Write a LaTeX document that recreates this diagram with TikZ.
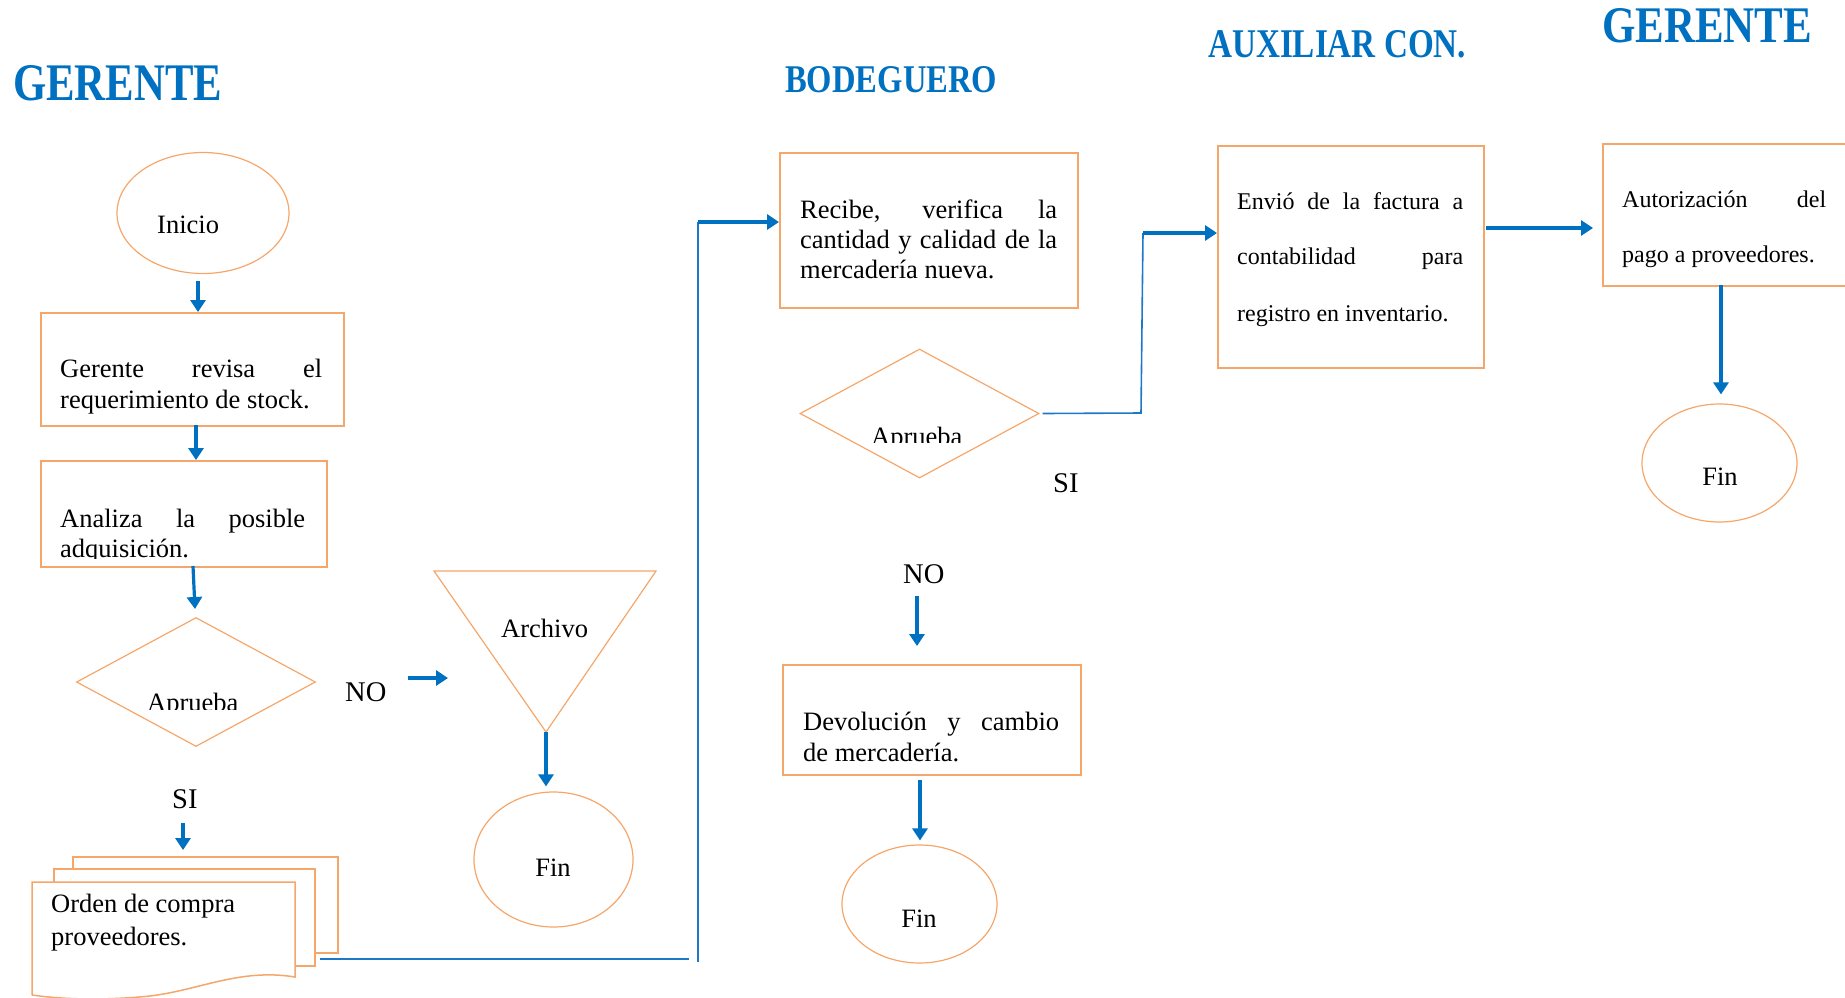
\documentclass[tikz,border=0pt]{standalone}
\usepackage{fontspec}
\setmainfont{Liberation Serif}
\usepackage{graphicx}
\usetikzlibrary{arrows.meta,shapes.geometric}
\definecolor{bl}{RGB}{0,112,192}
\definecolor{bll}{RGB}{30,120,200}
\definecolor{org}{RGB}{245,166,106}
\tikzset{
 box/.style={draw=org, line width=1.5pt, inner sep=0, anchor=north west},
 oval/.style={draw=org, line width=1.2pt, ellipse, inner sep=0},
 dia/.style={draw=org, line width=1.2pt, diamond, inner sep=0},
 shp/.style={draw=org, line width=1.2pt},
 arr/.style={draw=bl, line width=3.2pt, -{Triangle[length=12pt,width=15pt]}},
 conn/.style={draw=bll, line width=1.6pt},
 txt/.style={inner sep=0, anchor=base west, font=\fontsize{26.5}{31}\selectfont},
 txtc/.style={inner sep=0, anchor=base, font=\fontsize{26.5}{31}\selectfont},
 sml/.style={inner sep=0, anchor=base west, font=\fontsize{24}{28}\selectfont},
 lbl/.style={inner sep=0, anchor=base west, font=\fontsize{28.5}{32}\selectfont},
 ttl/.style={inner sep=0, anchor=base west, text=bl, font=\bfseries},
}
\begin{document}
\begin{tikzpicture}[x=1pt,y=-1pt]
\useasboundingbox (0,0) rectangle (1845,997);

% titles
\node[ttl] (t1) at (13,100) {\resizebox{209pt}{35pt}{GERENTE}};
\node[ttl] (t2) at (785,92) {\resizebox{212pt}{26pt}{BODEGUERO}};
\node[ttl] (t3) at (1208,57) {\resizebox{258pt}{27pt}{AUXILIAR CON.}};
\node[ttl] (t4) at (1602,42) {\resizebox{210pt}{34pt}{GERENTE}};

% left column shapes
\node[oval, minimum width=172, minimum height=121] (ini) at (203,213) {};
\node[box, minimum width=303, minimum height=113] (b1) at (40,312) {};
\node[box, minimum width=286, minimum height=106] (b2) at (40,460) {};
\node[dia, minimum width=239, minimum height=129] (d1) at (196,682) {};
\coordinate (tl) at (434,571);
\coordinate (tr) at (656,571);
\coordinate (tb) at (546,732);
\draw[shp] (tl) -- (tr) -- (tb) -- cycle;
\node[oval, minimum width=159, minimum height=135] (fin1) at (553.5,859.5) {};

% multi-document
\draw[shp, line width=1.5pt] (73,869) -- (73,857) -- (338,857) -- (338,953) -- (315,953);
\draw[shp, line width=1.5pt] (54,882) -- (54,869) -- (315,869) -- (315,966) -- (295,966);
\draw[shp, line width=1.5pt] (32,995) -- (32,882) -- (295,882) -- (295,977)
  .. controls (240,968) and (200,990) .. (150,996)
  .. controls (100,1001) and (60,999) .. (32,995);

% middle column shapes
\node[box, minimum width=298, minimum height=155] (b3) at (779,152) {};
\node[dia, minimum width=239, minimum height=129] (d2) at (919.5,413.5) {};
\node[box, minimum width=298, minimum height=110] (b5) at (782,664) {};
\node[oval, minimum width=155, minimum height=118] (fin2) at (919.5,904) {};

% right shapes
\node[box, minimum width=266, minimum height=222] (b4) at (1217,145) {};
\node[box, minimum width=300, minimum height=142] (b6) at (1602,143) {};
\node[oval, minimum width=155, minimum height=118] (fin3) at (1719.5,463) {};

% texts left
\node[txt] (tini) at (157,233) {Inicio};
\node[txt] (b1a) at (60,377) {\makebox[262pt][s]{Gerente revisa el}};
\node[txt] (b1b) at (60,408) {requerimiento de stock.};
\begin{scope}
\clip (40,460) rectangle (326,558);
\node[txt] (b2a) at (60,527) {\makebox[245pt][s]{Analiza la posible}};
\node[txt] (b2b) at (60,557) {adquisición.};
\end{scope}
\begin{scope}
\clip (76,617) rectangle (315,709);
\node[txt] (d1t) at (147,711) {Aprueba};
\end{scope}
\node[lbl] (no1) at (345,701) {NO};
\node[lbl] (si1) at (172,808) {SI};
\node[txt] (arch) at (501,637) {Archivo};
\node[txtc] (fin1t) at (553,876) {Fin};
\node[txt] (oca) at (51,912) {Orden de compra};
\node[txt] (ocb) at (51,945) {proveedores.};

% texts middle
\node[txt] (b3a) at (800,218) {\makebox[257pt][s]{Recibe, verifica la}};
\node[txt] (b3b) at (800,248) {\makebox[257pt][s]{cantidad y calidad de la}};
\node[txt] (b3c) at (800,278) {mercadería nueva.};
\begin{scope}
\clip (800,349) rectangle (1039,442);
\node[txt] (d2t) at (871,445) {Aprueba};
\end{scope}
\node[lbl] (si2) at (1053,492) {SI};
\node[lbl] (no2) at (903,583) {NO};
\node[txt] (b5a) at (803,730) {\makebox[256pt][s]{Devolución y cambio}};
\node[txt] (b5b) at (803,761) {de mercadería.};
\node[txtc] (fin2t) at (919,927) {Fin};

% texts right
\node[sml] (b4a) at (1237,209) {\makebox[226pt][s]{Envió de la factura a}};
\node[sml] (b4b) at (1237,264) {\makebox[226pt][s]{contabilidad para}};
\node[sml] (b4c) at (1237,321) {registro en inventario.};
\node[sml] (b6a) at (1622,207) {\makebox[204pt][s]{Autorización del}};
\node[sml] (b6b) at (1622,262) {pago a proveedores.};
\node[txtc] (fin3t) at (1720,485) {Fin};

% connectors
\coordinate (a1s) at (198,281);
\draw[arr] (a1s) -- (a1s |- b1.north);
\coordinate (a2s) at (196,425);
\draw[arr] (a2s) -- (a2s |- b2.north);
\coordinate (a3s) at (193,566);
\coordinate (a3e) at (195,609);
\draw[arr] (a3s) -- (a3e);
\coordinate (a4s) at (408,678);
\coordinate (a4e) at (448,678);
\draw[arr] (a4s) -- (a4e);
\draw[arr, shorten >=5pt] (tb) -- (tb |- fin1.north);
\coordinate (a6s) at (183,823);
\coordinate (a6e) at (183,850);
\draw[arr] (a6s) -- (a6e);

\coordinate (l1s) at (320,959);
\coordinate (l1e) at (689,959);
\draw[conn] (l1s) -- (l1e);
\coordinate (l2s) at (698,962);
\coordinate (l2e) at (698,222);
\draw[conn] (l2s) -- (l2e);
\draw[arr] (l2e) -- (l2e -| b3.west);

\coordinate (m1) at (1141,413);
\coordinate (m2) at (1143,233);
\draw[conn] ([xshift=3pt]d2.east) -- (m1) -- (m2);
\draw[arr] (m2) -- (m2 -| b4.west);

\coordinate (a9s) at (917,596);
\coordinate (a9e) at (917,646);
\draw[arr] (a9s) -- (a9e);
\coordinate (a10s) at (920,780);
\draw[arr, shorten >=4pt] (a10s) -- (a10s |- fin2.north);
\coordinate (a11s) at (1486,228);
\draw[arr, shorten >=9pt] (a11s) -- (a11s -| b6.west);
\coordinate (a12s) at (1721,285);
\draw[arr, shorten >=9pt] (a12s) -- (a12s |- fin3.north);
\end{tikzpicture}
\end{document}
